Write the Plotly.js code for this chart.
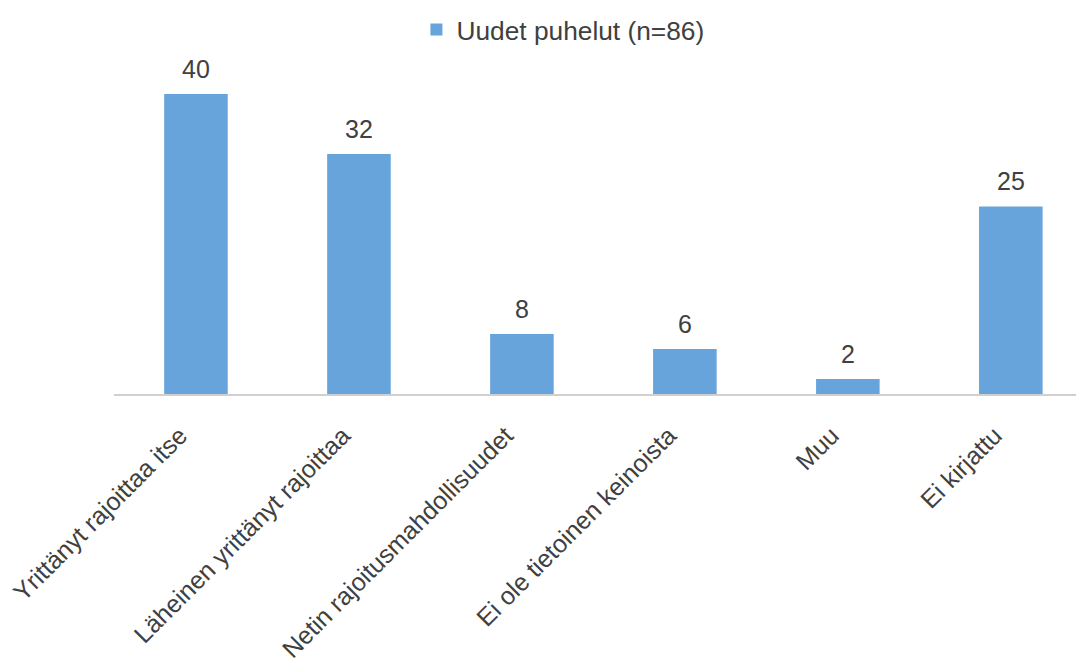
<!DOCTYPE html>
<html>
<head>
<meta charset="utf-8">
<script src="https://cdn.plot.ly/plotly-3.0.1.min.js"></script>
<style>html,body{margin:0;padding:0;background:#fff;}#chart{width:1076px;height:666px;}</style>
</head>
<body>
<div id="chart"></div>
<script>
const categories = ["Yrittänyt rajoittaa itse", "Läheinen yrittänyt rajoittaa", "Netin rajoitusmahdollisuudet", "Ei ole tietoinen keinoista", "Muu", "Ei kirjattu"];
const values = [40, 32, 8, 6, 2, 25];
const seriesName = "Uudet puhelut (n=86)";

const font = "Liberation Sans, Arial, Helvetica, sans-serif";
const textColor = "#404040";

const trace = {
  type: "bar",
  x: categories,
  y: values,
  name: seriesName,
  width: 0.39,
  marker: {color: "#66a4db", line: {width: 0}},
  hoverinfo: "x+y",
  showlegend: true
};

const annotations = categories.map((c, i) => ({
  x: c, y: values[i], xref: "x", yref: "y",
  text: String(values[i]), showarrow: false,
  yanchor: "bottom", yshift: 9,
  font: {family: font, size: 25, color: textColor}
}));

const layout = {
  width: 1076, height: 666,
  margin: {l: 114, r: 0, t: 60, b: 272},
  paper_bgcolor: "#ffffff", plot_bgcolor: "#ffffff",
  font: {family: font, size: 25, color: textColor},
  showlegend: true,
  legend: {
    orientation: "h", xref: "container", yref: "container",
    x: 0.387, y: 0.955, xanchor: "left", yanchor: "middle",
    font: {family: font, size: 26.3, color: textColor},
    bgcolor: "rgba(0,0,0,0)"
  },
  xaxis: {
    type: "category", range: [-0.503, 5.40],
    tickangle: -45, ticks: "", showgrid: false, zeroline: false,
    showline: true, linecolor: "#d0d0d0", linewidth: 2,
    ticklabelstandoff: 15, ticklabelshift: -16,
    tickfont: {family: font, size: 25, color: textColor},
    fixedrange: true
  },
  yaxis: {
    range: [0, 44.53], visible: false, showgrid: false, zeroline: false, fixedrange: true
  },
  annotations: annotations,
  bargap: 0.6
};

Plotly.newPlot("chart", [trace], layout, {displayModeBar: false, staticPlot: true});
</script>
</body>
</html>
